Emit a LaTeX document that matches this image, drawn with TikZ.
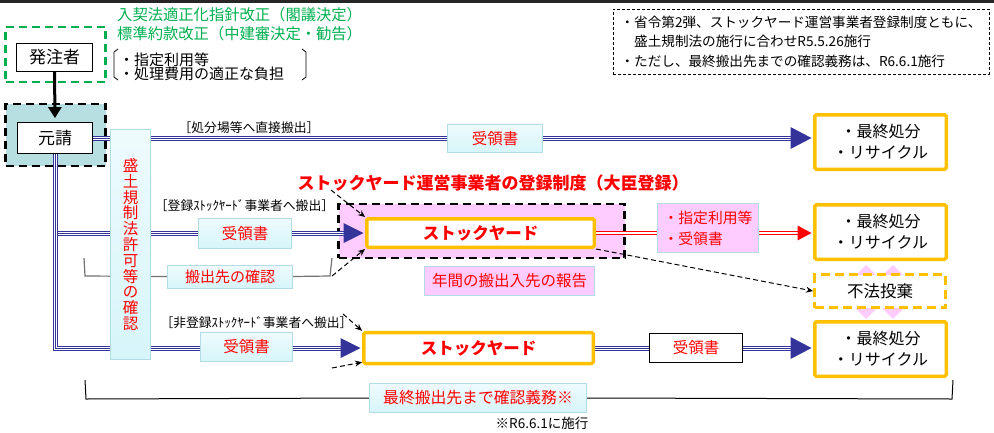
\documentclass[tikz,border=0pt]{standalone}
\usepackage{fontspec}
\setmainfont{Noto Sans CJK JP}
\usetikzlibrary{arrows.meta,calc}
\pgfdeclarelayer{back}
\pgfdeclarelayer{bg}
\pgfsetlayers{back,bg,main}
\definecolor{navyc}{RGB}{51,51,153}
\definecolor{orangec}{RGB}{255,192,0}
\definecolor{cyanf}{RGB}{214,245,250}
\definecolor{cyanb}{RGB}{180,220,230}
\definecolor{pinkc}{RGB}{255,204,255}
\definecolor{tealc}{RGB}{183,222,225}
\definecolor{greenc}{RGB}{0,176,80}
\definecolor{redc}{RGB}{255,0,0}
\newcommand\myfs[1]{\fontsize{#1}{#1}\selectfont}
\begin{document}
\begin{tikzpicture}[x=1pt,y=-1pt,
  tri/.style={draw=navyc,line width=5pt,postaction={draw=white,line width=3pt},postaction={draw=navyc,line width=1pt}},
  whitebox/.style={draw=black,line width=0.8pt,fill=white,inner sep=0pt,font=\myfs{17}},
  cyanbox/.style={draw=cyanb,line width=0.8pt,top color=white!60!cyanf,bottom color=cyanf,inner sep=0pt,text=redc,font=\myfs{15.5}},
  pinkbox/.style={draw=cyanb,line width=0.8pt,fill=pinkc,inner sep=0pt,text=redc,font=\myfs{15.5}},
  finalbox/.style={draw=orangec,line width=3.5pt,fill=white,rounded corners=1.5pt,minimum width=131.5pt,minimum height=54.5pt,inner sep=0pt,align=center,font=\fontsize{16}{21}\selectfont},
  stockbox/.style={draw=orangec,line width=3.5pt,fill=white,rounded corners=1.5pt,inner sep=0pt,text=redc,font=\bfseries\myfs{16.5}},
  lab/.style={inner sep=0pt,font=\myfs{12.8}},
  dashbox/.style={line width=2.5pt,dash pattern=on 8pt off 5pt,inner sep=0pt},
  darr/.style={draw=black,line width=1pt,dash pattern=on 5pt off 3pt,-{Stealth[length=7pt,width=6pt]}},
]
\useasboundingbox (0,0) rectangle (994,432);
\begin{pgfonlayer}{back}
  \fill[white] (0,0) rectangle (994,432);
  \fill[black!85] (0,0) rectangle (994,2.5);
  \node[dashbox,draw=greenc,minimum width=100pt,minimum height=55pt] (greenbox) at (55.5,54.5) {};
  \node[dashbox,draw=black,fill=tealc,minimum width=100pt,minimum height=62pt] (tealbox) at (55.5,135) {};
  \node[dashbox,draw=black,fill=pinkc,minimum width=286pt,minimum height=54pt] (pinkreg) at (481.5,231) {};
  \fill[pinkc] (866,265) -- (893,292) -- (866,319) -- (839,292) -- cycle;
  \fill[pinkc] (893,265) -- (920,292) -- (893,319) -- (866,292) -- cycle;
\end{pgfonlayer}

% texts top
\node[anchor=west,inner sep=0pt,text=greenc,font=\myfs{15.3}] (g1) at (117,15) {入契法適正化指針改正（閣議決定）};
\node[anchor=west,inner sep=0pt,text=greenc,font=\myfs{15.3}] (g2) at (117,34) {標準約款改正（中建審決定・勧告）};
\node[anchor=west,inner sep=0pt,align=left,font=\fontsize{15}{14.5}\selectfont] (list) at (119,67) {・指定利用等\\・処理費用の適正な負担};
\draw[line width=0.8pt] (118,49) -- (114,52) -- (114,77) -- (118,80);
\draw[line width=0.8pt] (302,49) -- (306,52) -- (306,77) -- (302,80);
\node[draw=black,line width=0.8pt,dash pattern=on 3pt off 2pt,minimum width=376pt,minimum height=65pt,inner sep=0pt,align=left,font=\fontsize{13.6}{19.5}\selectfont] (note) at (801,41.5) {・省令第2弾、ストックヤード運営事業者登録制度ともに、\\　盛土規制法の施行に合わせR5.5.26施行\\・ただし、最終搬出先までの確認義務は、R6.6.1施行};

% main nodes
\node[whitebox,minimum width=76pt,minimum height=28pt] (hachu) at (54.5,57) {発注者};
\node[whitebox,minimum width=75pt,minimum height=31pt] (motouke) at (55,138) {元請};
\node[draw=cyanb,line width=0.8pt,top color=white!60!cyanf,bottom color=cyanf,minimum width=40pt,minimum height=230pt,inner sep=0pt,text=redc,align=center,font=\fontsize{15.5}{15.8}\selectfont] (tall) at (130.5,244.5) {盛\\土\\規\\制\\法\\許\\可\\等\\の\\確\\認};

\node[lab] (lab1) at (249,128) {［処分場等へ直接搬出］};
\node[cyanbox,minimum width=95pt,minimum height=28pt] (ryo1) at (495,138.5) {受領書};
\node[finalbox] (final1) at (880.5,142) {・最終処分\\・リサイクル};

\node[text=redc,inner sep=0pt,font=\bfseries\myfs{17}] (title) at (493,183) {ストックヤード運営事業者の登録制度（大臣登録）};
\node[lab] (lab2) at (244.5,206) {［登録ｽﾄｯｸﾔｰﾄﾞ事業者へ搬出］};
\node[cyanbox,minimum width=93pt,minimum height=30pt] (ryo2) at (245,233.5) {受領書};
\node[stockbox,minimum width=227.5pt,minimum height=28.5pt] (stock2) at (480.5,233) {ストックヤード};
\node[pinkbox,minimum width=101pt,minimum height=49pt,align=left,font=\fontsize{14.8}{21}\selectfont] (shitei) at (708,228) {・指定利用等\\・受領書};
\node[finalbox] (final2) at (880.5,232) {・最終処分\\・リサイクル};
\node[cyanbox,minimum width=125pt,minimum height=23pt,font=\myfs{15}] (check) at (230,276.5) {搬出先の確認};
\node[pinkbox,minimum width=170pt,minimum height=29pt] (report) at (509.5,281) {年間の搬出入先の報告};
\node[draw=orangec,line width=3pt,dash pattern=on 9pt off 5pt,fill=white,minimum width=131pt,minimum height=33pt,inner sep=0pt,font=\myfs{16.5}] (fuho) at (880,291) {不法投棄};

\node[lab] (lab3) at (256.5,323) {［非登録ｽﾄｯｸﾔｰﾄﾞ事業者へ搬出］};
\node[cyanbox,minimum width=92pt,minimum height=29pt] (ryo3) at (246.5,347) {受領書};
\node[stockbox,minimum width=229.5pt,minimum height=31pt] (stock3) at (478.5,348) {ストックヤード};
\node[whitebox,minimum width=93pt,minimum height=29pt,text=redc,font=\myfs{15.5}] (ryo4) at (696,348) {受領書};
\node[finalbox] (final3) at (880.5,349) {・最終処分\\・リサイクル};

\node[cyanbox,minimum width=217pt,minimum height=29pt,font=\myfs{15.8}] (fincheck) at (478,398) {最終搬出先まで確認義務※};
\node[inner sep=0pt,font=\myfs{13.5}] (note2) at (542,423) {※R6.6.1に施行};

% lines under the boxes
\begin{pgfonlayer}{bg}
  \draw[tri] (motouke.east) -- ($(final1.west |- motouke.east)+(-20,0)$);
  \draw[tri] (motouke.south) -- (motouke.south |- stock3.west) -- ($(stock3.west)+(-19,0)$);
  \draw[tri] ($(motouke.south |- stock2.west)+(2.5,0)$) -- ($(stock2.west)+(-19,0)$);
  \draw[tri] (stock3.east) -- ($(final3.west |- stock3.east)+(-20,0)$);
  \draw[redc,line width=1.6pt,double=white,double distance=1.5pt] (stock2.east) -- ($(final2.west |- stock2.east)+(-13,0)$);
  \draw[black!55,line width=1.2pt] (84,258) -- (85,276) -- (check.west);
  \draw[black!55,line width=1.2pt] (check.east) -- (330,276) -- (332,258);
  \draw[black,line width=1pt] (85,380) -- (86,399) -- (fincheck.west);
  \draw[black,line width=1pt] (fincheck.east) -- (952,399) -- (953,380);
\end{pgfonlayer}

% arrowheads
\draw[line width=3pt,-{Triangle[length=11pt,width=13pt]}] (hachu.south) -- ($(motouke.north)+(0,-4)$);
\fill[navyc] ($(final1.west |- motouke.east)+(-1.5,0)$) -- ++(-21,-11) -- ++(0,22) -- cycle;
\fill[navyc] ($(stock2.west)+(-1.5,0)$) -- ++(-20,-10) -- ++(0,20) -- cycle;
\fill[navyc] ($(stock3.west)+(-1.5,0)$) -- ++(-20,-10) -- ++(0,20) -- cycle;
\fill[navyc] ($(final3.west |- stock3.east)+(-1.5,0)$) -- ++(-21,-11) -- ++(0,22) -- cycle;
\fill[redc] ($(final2.west |- stock2.east)+(-1.5,0)$) -- ++(-14,-7.5) -- ++(0,15) -- cycle;

% dashed arrows
\coordinate (t1) at (331,190);
\draw[darr] (t1) -- (stock2.north west);
\coordinate (c1) at (332,276);
\draw[darr] (c1) -- (stock2.south west);
\draw[darr] (stock2.south east) -- (fuho.west);
\coordinate (n1) at (343,314);
\draw[darr] (n1) -- (stock3.north west);
\coordinate (n2) at (332,368);
\draw[darr] (n2) -- ($(stock3.south west)+(0,-3)$);
\end{tikzpicture}
\end{document}
